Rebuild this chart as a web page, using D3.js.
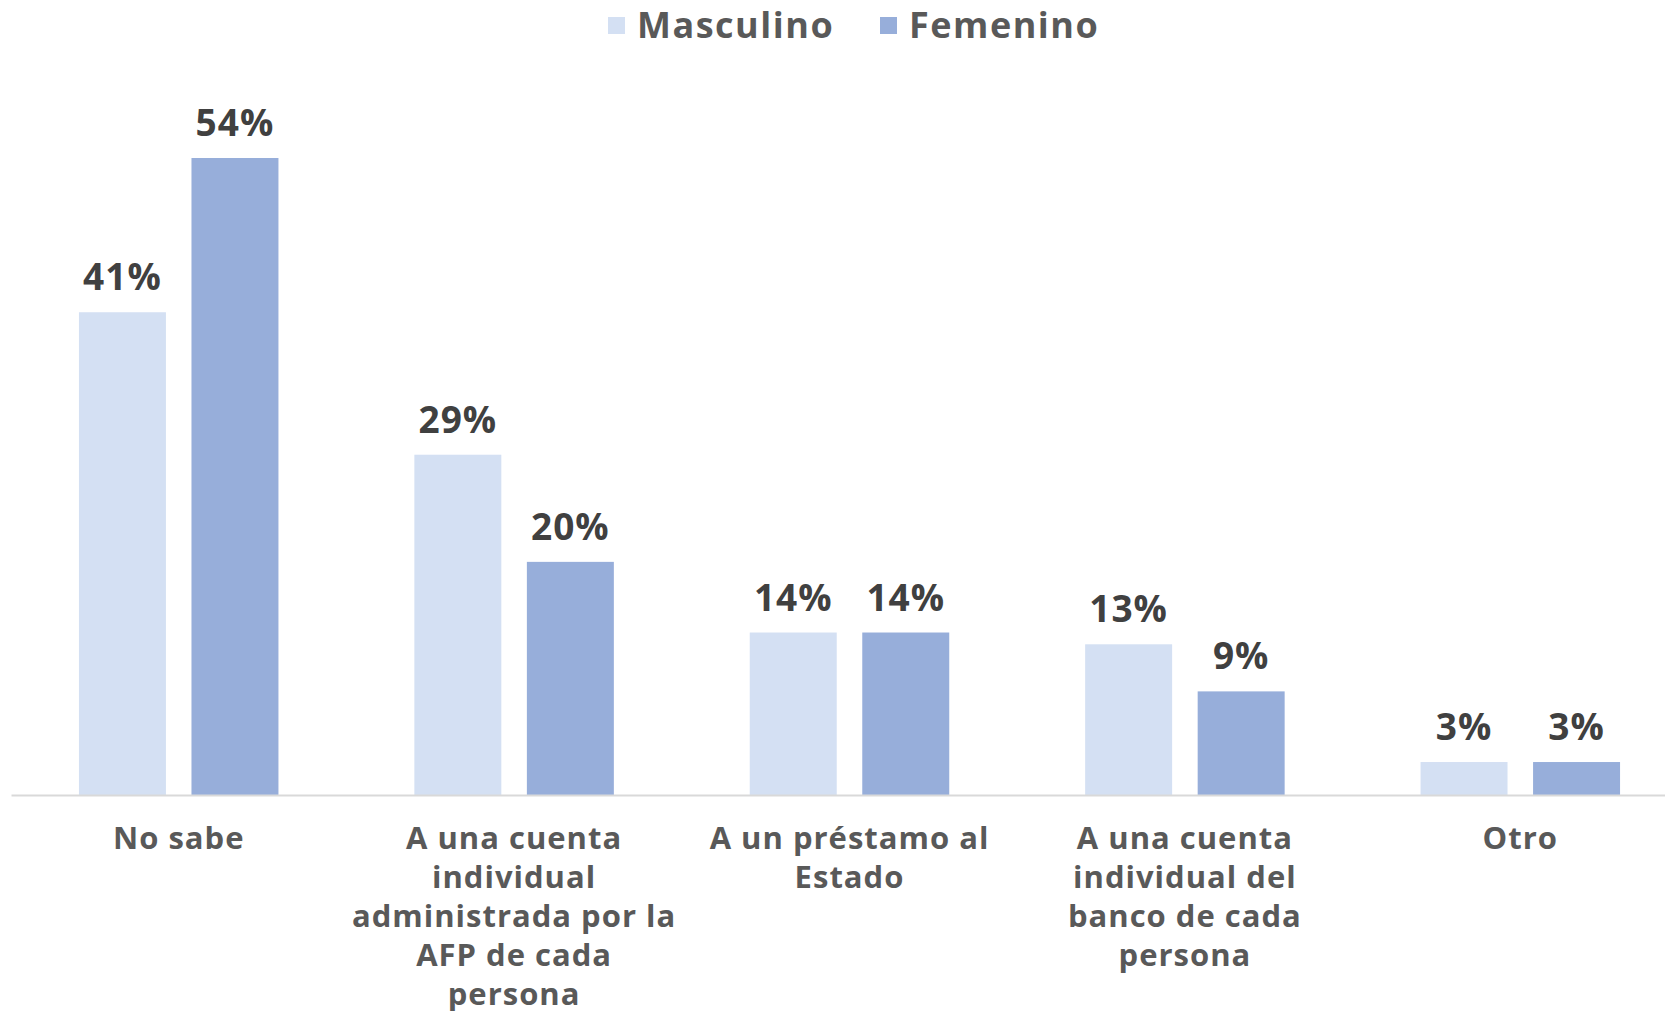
<!DOCTYPE html>
<html>
<head>
<meta charset="utf-8">
<script src="https://cdn.jsdelivr.net/npm/d3@7"></script>
<style>
  body { margin: 0; background: #fff; }
  svg { display: block; font-family: "Open Sans", "Noto Sans", sans-serif; font-weight: 700; }
</style>
</head>
<body>
<svg id="chart" width="1665" height="1011"></svg>
<script>
// categories, each one already split in lines as in the picture
let categories = ["No sabe", "A una cuenta individual AFP", "A un préstamo al Estado", "A una cuenta individual banco", "Otro"];
let categoryLines = [
  ["No sabe"],
  ["A una cuenta", "individual", "administrada por la", "AFP de cada", "persona"],
  ["A un préstamo al", "Estado"],
  ["A una cuenta", "individual del", "banco de cada", "persona"],
  ["Otro"]
];
let series = ["Masculino", "Femenino"];
let masculino = [41.0, 28.9, 13.8, 12.8, 2.8];
let femenino = [54.1, 19.8, 13.8, 8.8, 2.8];
let colors = ["#d4e0f3", "#97aeda"];

let svg = d3.select("#chart");
let baseY = 795;
let pairW = 199.5;

let x0 = d3.scaleBand()
    .domain(categories)
    .range([11, 1688]);
let x1 = d3.scaleBand()
    .domain(series)
    .range([0, pairW])
    .paddingInner(0.227);
let y = d3.scaleLinear()
    .domain([0, 54.1])
    .range([baseY, 158]);

let rows = categories.map((c, i) => ({cat: c, vals: [masculino[i], femenino[i]]}));

let groups = svg.append("g").selectAll("g")
    .data(rows).enter()
    .append("g")
    .attr("transform", d => "translate(" + (x0(d.cat) + (x0.bandwidth() - pairW) / 2) + ",0)");

groups.selectAll("rect")
    .data(d => d.vals.map((v, j) => ({s: series[j], v: v, j: j})))
    .enter().append("rect")
    .attr("x", d => x1(d.s))
    .attr("y", d => y(d.v))
    .attr("width", x1.bandwidth())
    .attr("height", d => baseY - y(d.v))
    .style("fill", d => colors[d.j]);

groups.selectAll("text")
    .data(d => d.vals.map((v, j) => ({s: series[j], v: v})))
    .enter().append("text")
    .attr("x", d => x1(d.s) + x1.bandwidth() / 2)
    .attr("y", d => y(d.v) - 22)
    .attr("text-anchor", "middle")
    .style("font-size", "37px")
    .style("letter-spacing", "1px")
    .style("fill", "#404040")
    .text(d => Math.round(d.v) + "%");

// axis line
let axis = svg.append("g").attr("transform", "translate(0," + baseY + ")")
    .call(d3.axisBottom(x0).tickSize(0).tickFormat(""));
axis.select(".domain").attr("stroke", "#d9d9d9").attr("stroke-width", 2);

// category labels
let catText = svg.append("g").selectAll("text")
    .data(categories).enter()
    .append("text")
    .attr("text-anchor", "middle")
    .attr("x", d => x0(d) + x0.bandwidth() / 2)
    .attr("y", 849)
    .style("font-size", "31px")
    .style("letter-spacing", "1px")
    .style("fill", "#595959");
catText.each(function(d, i) {
  let t = d3.select(this);
  categoryLines[i].forEach((line, k) => {
    t.append("tspan")
      .attr("x", x0(d) + x0.bandwidth() / 2)
      .attr("dy", k == 0 ? 0 : 39)
      .text(line);
  });
});

// legend
let legendX = [608, 880];
let legend = svg.append("g").selectAll("g")
    .data(series).enter()
    .append("g")
    .attr("transform", (d, i) => "translate(" + legendX[i] + ",17)");
legend.append("rect")
    .attr("width", 17).attr("height", 17)
    .style("fill", (d, i) => colors[i]);
legend.append("text")
    .attr("x", 29).attr("y", 21)
    .style("font-size", "36px")
    .style("letter-spacing", "1.5px")
    .style("fill", "#595959")
    .text(d => d);
</script>
</body>
</html>
